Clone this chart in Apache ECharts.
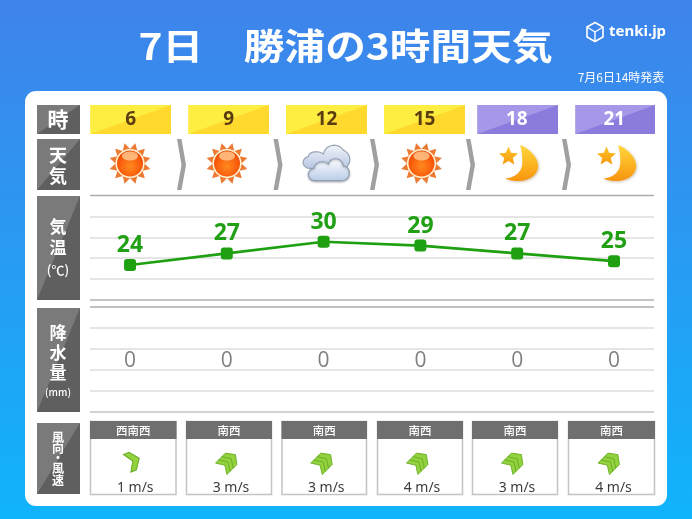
<!DOCTYPE html>
<html><head><meta charset="utf-8">
<style>html,body{margin:0;padding:0;background:#fff}#c{width:692px;height:519px}</style>
<script src="https://cdn.jsdelivr.net/npm/echarts@6/dist/echarts.min.js"></script>
</head><body><div id="c"></div>
<script>
const hours = [6, 9, 12, 15, 18, 21];
const temps = [24, 27, 30, 29, 27, 25];
const rain = [0, 0, 0, 0, 0, 0];
const weather = ['sun', 'sun', 'cloud', 'sun', 'moon', 'moon'];
const windDirs = ['西南西', '南西', '南西', '南西', '南西', '南西'];
const windSpeeds = [1, 3, 3, 4, 3, 4];

const JP = '"Noto Sans CJK JP","Noto Sans",sans-serif';
const NUM = '"Open Sans","Noto Sans",sans-serif';
const dirAngle = {'西南西': 22.5, '南西': 45};
const cellX = [[90.5,171],[188.5,269],[286,367],[384,465],[477.5,558],[575.5,655]];
const iconX = [130, 227, 326.5, 421.5, 518.5, 616.5];
const chevX = [177, 273.5, 370, 466, 562];
const windX = [[90,176.5],[186,272],[281.5,367],[377,463],[472,558],[568,655]];
const g = [];
const T = (text, x, y, font, fill, extra) => g.push(Object.assign({type:'text', z:5, style:Object.assign({text, x, y, font, fill, align:'center', verticalAlign:'middle'}, extra||{})}));
const R = (x, y, w, h, fill, extra) => g.push(Object.assign({type:'rect', z:1, shape:{x,y,width:w,height:h}, style:{fill}}, extra||{}));
const P = (pts, fill, z) => g.push({type:'polygon', z:z||2, shape:{points:pts}, style:{fill}});

// Sample a cubic outline: start point, then [c1x,c1y,c2x,c2y,x,y] segments, in 3x crop units.
function outline(start, segs, ox, oy) {
  const pts = [[ox + start[0]/3, oy + start[1]/3]];
  let p = start;
  segs.forEach(s => {
    for (let k = 1; k <= 10; k++) {
      const t = k/10, u = 1-t;
      const X = u*u*u*p[0] + 3*u*u*t*s[0] + 3*u*t*t*s[2] + t*t*t*s[4];
      const Y = u*u*u*p[1] + 3*u*u*t*s[1] + 3*u*t*t*s[3] + t*t*t*s[5];
      pts.push([ox + X/3, oy + Y/3]);
    }
    p = [s[4], s[5]];
  });
  return pts;
}

// white panel
R(25, 91, 642, 415, '#ffffff', {shape:{x:25,y:91,width:642,height:415,r:11}, z:-2});

// title
g.push({type:'text', z:5, x:345.5, y:46.5, scaleX:1.13, style:{text:'7日　勝浦の3時間天気', x:0, y:0, font:'bold 36px '+JP, fill:'#fff', align:'center', verticalAlign:'middle'}});
T('7月6日14時発表', 621, 77, '12px '+JP, '#fff');
// logo
T('tenki.jp', 637.5, 32, 'bold 15px "Noto Sans",sans-serif', '#fff');
g.push({type:'polygon', z:5, shape:{points:[[595,22.5],[603,27],[603,37],[595,41.5],[587,37],[587,27]]}, style:{fill:'none', stroke:'#fff', lineWidth:1.6}});
g.push({type:'polyline', z:5, shape:{points:[[587,27],[595,32],[603,27]]}, style:{fill:'none', stroke:'#fff', lineWidth:1.4}});
g.push({type:'line', z:5, shape:{x1:595,y1:32,x2:595,y2:41.5}, style:{stroke:'#fff', lineWidth:1.4}});

// left headers
const headers = [[37,105,43,29],[37,139,43,51],[37,196,43,104],[37,308,43,104],[37,423,43,71]];
headers.forEach(h => {
  R(h[0], h[1], h[2], h[3], '#5f5f5f');
  P([[h[0],h[1]],[h[0]+h[2],h[1]],[h[0],h[1]+h[3]]], '#7a7a7a');
});
T('時', 58, 119.5, 'bold 21px '+JP, '#fff');
T('天', 58, 155, 'bold 18px '+JP, '#fff');
T('気', 58, 176, 'bold 18px '+JP, '#fff');
T('気', 58, 227, 'bold 17px '+JP, '#fff');
T('温', 58, 248, 'bold 17px '+JP, '#fff');
T('(℃)', 58, 270, '500 13px '+JP, '#fff');
T('降', 58, 333, 'bold 17px '+JP, '#fff');
T('水', 58, 353, 'bold 17px '+JP, '#fff');
T('量', 58, 373, 'bold 17px '+JP, '#fff');
T('(mm)', 58, 392, '500 10px '+JP, '#fff');
T('風', 58, 437, 'bold 12px '+JP, '#fff');
T('向', 58, 448.5, 'bold 12px '+JP, '#fff');
T('・', 58, 458, 'bold 12px '+JP, '#fff');
T('風', 58, 468, 'bold 12px '+JP, '#fff');
T('速', 58, 480, 'bold 12px '+JP, '#fff');

// hour cells
hours.forEach((h, i) => {
  const [a, b] = cellX[i], night = h >= 18;
  R(a, 105, b-a, 29, night ? '#8a7bdc' : '#ffd92e');
  P([[a,105],[b,105],[a,134]], night ? '#a697e8' : '#ffee42');
  T(String(h), (a+b)/2 - (i>3?1:0), 119.5, 'bold 19px '+NUM, night ? '#fff' : '#5a3d10');
});

// chevrons
chevX.forEach(x => P([[x,139],[x+4.5,139],[x+9,165],[x+4.5,190],[x,190],[x+4.5,165]], '#a0a0a0'));

// icons
const LG = (c1, c2) => ({type:'linear', x:0, y:0, x2:0, y2:1, colorStops:[{offset:0,color:c1},{offset:1,color:c2}]});
function sun(cx, cy) {
  for (let k = 0; k < 12; k++) {
    const a = (15 + 30*k) * Math.PI/180;
    const px = (r, d) => [cx + r*Math.cos(a) - d*Math.sin(a), cy + r*Math.sin(a) + d*Math.cos(a)];
    P([px(14,-3.8), px(21,0), px(14,3.8)], '#ec7a32', 3);
  }
  g.push({type:'circle', z:3, shape:{cx,cy,r:14.5}, style:{fill:'#fff1cf'}});
  g.push({type:'circle', z:3, shape:{cx,cy,r:13}, style:{fill:{type:'radial',x:0.5,y:0.6,r:0.6,colorStops:[{offset:0,color:'#ff8a1e'},{offset:0.7,color:'#fa5c0c'},{offset:1,color:'#e84808'}]}}});
  g.push({type:'ellipse', z:3, shape:{cx,cy:cy-7.5,rx:8,ry:4.5}, style:{fill:'#ffc48a', opacity:0.85}});
}
function cloud(cx) {
  const x = cx - 26.5, y = 140;
  const back = outline([30,85], [[5,85,2,55,25,50],[25,35,55,30,70,42],[75,15,112,5,130,30],[152,40,158,68,135,85],[110,85,60,85,30,85]], x, y);
  const front = outline([45,122], [[20,122,18,88,42,85],[45,65,72,60,85,72],[92,50,125,50,130,78],[155,80,155,122,125,122],[100,122,70,122,45,122]], x, y);
  g.push({type:'polygon', z:3, shape:{points:back}, style:{fill:LG('#f2f5fb','#b6c6e2'), stroke:'#98a3b2', lineWidth:1.2}});
  g.push({type:'polygon', z:3, shape:{points:front}, style:{fill:LG('#ffffff','#b8cbe8'), stroke:'#98a3b2', lineWidth:1.2, shadowBlur:2, shadowColor:'rgba(80,90,110,0.4)', shadowOffsetY:1}});
}
function moon(cx) {
  const x = cx - 28.5, y = 140;
  const crescent = outline([90,15], [[130,30,155,70,140,95],[125,125,75,130,45,115],[75,115,98,95,97,65],[97,45,95,28,90,15]], x, y);
  g.push({type:'polygon', z:3, shape:{points:crescent}, style:{fill:LG('#ffd83a','#f8950e'), shadowBlur:3, shadowColor:'rgba(120,90,30,0.35)', shadowOffsetX:1, shadowOffsetY:1}});
  const pts = [];
  for (let k = 0; k < 10; k++) {
    const a = (-90 + 36*k) * Math.PI/180, r = k%2 ? 4.5 : 10;
    pts.push([x + 18.5 + r*Math.cos(a), y + 16.5 + r*Math.sin(a)]);
  }
  g.push({type:'polygon', z:3, shape:{points:pts}, style:{fill:LG('#ffc42a','#f59a10')}});
}
weather.forEach((w, i) => {
  if (w === 'sun') sun(iconX[i], 163.5);
  else if (w === 'cloud') cloud(iconX[i]);
  else moon(iconX[i]);
});

// wind boxes
windDirs.forEach((d, i) => {
  const [a, b] = windX[i], c = (a+b)/2;
  R(a+0.5, 421.5, b-a-1, 73, '#fff', {style:{fill:'#fff', stroke:'#c4c4c4', lineWidth:1.5}});
  R(a, 421, b-a, 18, '#6f6f6f', {z:2});
  T(d, c, 430.5, '500 11.5px '+JP, '#fff');
  T(windSpeeds[i] + ' m/s', c+2, 488, '14px "Noto Sans",sans-serif', '#3c3c3c');
  const n = windSpeeds[i] >= 3 ? 3 : 1;
  const rot = dirAngle[d] * Math.PI/180;
  const s = n === 1 ? 1 : 0.85;
  for (let k = 0; k < n; k++) {
    const off = n === 1 ? 0 : (k-1) * 4.5;
    g.push({type:'polygon', z:3, z2:k, x: c + (n===1?-0.5:-1) + off*Math.cos(rot), y: (n===1?461:462) - off*Math.sin(rot), rotation: rot, scaleX:s, scaleY:s,
      shape:{points:[[-6,-9.5],[0,-9.5],[7,0],[0,9.5],[-6,9.5],[0,0]]},
      style:{fill:'#93d13f', stroke:'#66ad24', lineWidth:1}});
  }
});

// boundary rules
[[195.5,'#ababab'],[300,'#b0b0b0'],[307,'#ababab'],[412,'#c4c4c4']].forEach(r =>
  g.push({type:'line', z:1, shape:{x1:90,y1:r[0],x2:654,y2:r[0]}, style:{stroke:r[1], lineWidth:1.6}}));

const ruleAxis = gi => ({type:'value', gridIndex:gi, min:0, max:5, interval:1, show:true,
  axisLine:{show:false}, axisTick:{show:false}, axisLabel:{show:false},
  splitLine:{show:true, showMinLine:false, showMaxLine:false, lineStyle:{color:'#dcdcdc', width:1.5}}});
const hiddenY = (gi, min, max) => ({type:'value', gridIndex:gi, min, max, show:false, splitLine:{show:false}});
const hourAxis = gi => ({type:'value', gridIndex:gi, min:4.76, max:22.24, show:false, splitLine:{show:false}});

const chart = echarts.init(document.getElementById('c'), null, {renderer:'canvas'});
chart.setOption({
  animation:false,
  backgroundColor:{type:'linear', x:0, y:0, x2:0, y2:1, colorStops:[{offset:0,color:'#3f83ea'},{offset:1,color:'#10b4fb'}]},
  grid:[
    {left:90, width:564, top:195.5, height:104.5},
    {left:90, width:564, top:307, height:105}
  ],
  xAxis:[hourAxis(0), hourAxis(1)],
  yAxis:[hiddenY(0,15,41.9), ruleAxis(0), hiddenY(1,-1,1.06), ruleAxis(1)],
  graphic:{elements:g},
  series:[
    {type:'line', xAxisIndex:0, yAxisIndex:0, data:hours.map((h,i)=>[h,temps[i]]),
      symbol:'roundRect', symbolSize:12, lineStyle:{color:'#1ea010', width:2.6}, itemStyle:{color:'#1ea010'},
      label:{show:true, position:'top', distance:2, color:'#22a015', fontFamily:'Open Sans', fontWeight:'bold', fontSize:23, formatter:p=>p.value[1]}},
    {type:'line', xAxisIndex:1, yAxisIndex:2, data:hours.map((h,i)=>[h,rain[i]]), symbol:'circle', symbolSize:1,
      lineStyle:{width:0, color:'transparent'}, itemStyle:{color:'transparent'},
      label:{show:true, position:'inside', color:'#808080', fontFamily:'Open Sans', fontSize:21, formatter:p=>p.value[1]}}
  ]
});
</script></body></html>
